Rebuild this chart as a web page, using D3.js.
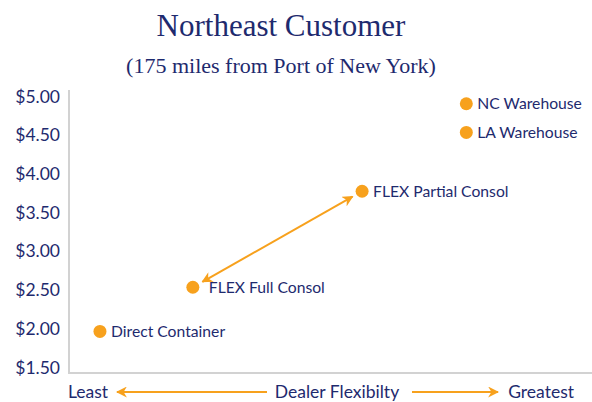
<!DOCTYPE html>
<html><head><meta charset="utf-8">
<script src="https://cdn.jsdelivr.net/npm/d3@7"></script>
<style>body{margin:0;background:#fff}svg{display:block}</style>
</head><body>
<svg id="c" width="592" height="402"></svg>
<script>
const names = ["Direct Container","FLEX Full Consol","FLEX Partial Consol","NC Warehouse","LA Warehouse"];
const flex = [6, 24, 56.8, 77, 77];
const cost = [1.96, 2.53, 3.77, 4.90, 4.53];
const yTicks = [1.5,2,2.5,3,3.5,4,4.5,5];
const title = "Northeast Customer";
const subtitle = "(175 miles from Port of New York)";

const navy = "#1e2a6e", orange = "#f7a11d", grey = "#d2d2d2";
const svg = d3.select("#c");
const x = d3.scaleLinear().domain([0,100]).range([69,585]);
const y = d3.scaleLinear().domain([1.5,5]).range([367,96]);

svg.append("text").attr("x",281).attr("y",36).attr("text-anchor","middle")
  .attr("font-family","Liberation Serif").attr("font-size",31).attr("fill",navy).text(title);
svg.append("text").attr("x",281).attr("y",73).attr("text-anchor","middle")
  .attr("font-family","Liberation Serif").attr("font-size",22).attr("fill",navy).text(subtitle);

// axes lines
svg.append("line").attr("x1",69).attr("x2",69).attr("y1",90).attr("y2",374).attr("stroke",grey).attr("stroke-width",2);
svg.append("line").attr("x1",68).attr("x2",592).attr("y1",373).attr("y2",373).attr("stroke",grey).attr("stroke-width",2);

const yAxis = d3.axisLeft(y).tickValues(yTicks).tickSize(0).tickPadding(0).tickFormat(d=>"$"+d.toFixed(2));
const ga = svg.append("g").attr("transform","translate(60,0)").call(yAxis);
ga.select(".domain").remove();
ga.selectAll("text").attr("font-family","Lato").attr("font-size",17.5).attr("fill",navy).attr("dy","0.35em");

const defs = svg.append("defs");
["s","e"].forEach(id=>{
  defs.append("marker").attr("id","m"+id).attr("viewBox","0 0 10 10").attr("refX",id==="e"?9:1).attr("refY",5)
   .attr("markerWidth",5.5).attr("markerHeight",5.5).attr("orient","auto")
   .append("path").attr("d",id==="e"?"M0,0L10,5L0,10L3,5Z":"M10,0L0,5L10,10L7,5Z").attr("fill",orange);
});

// double arrow between FLEX points
const a = 1, b = 2;
const dx = x(flex[b])-x(flex[a]), dy = y(cost[b])-y(cost[a]);
const L = Math.hypot(dx,dy), ux = dx/L, uy = dy/L;
svg.append("line")
  .attr("x1",x(flex[a])+ux*11).attr("y1",y(cost[a])+uy*11)
  .attr("x2",x(flex[b])-ux*11).attr("y2",y(cost[b])-uy*11)
  .attr("stroke",orange).attr("stroke-width",2)
  .attr("marker-start","url(#ms)").attr("marker-end","url(#me)");

svg.selectAll("circle.p").data(names).join("circle").attr("class","p")
  .attr("cx",(d,i)=>x(flex[i])).attr("cy",(d,i)=>y(cost[i])).attr("r",6.5).attr("fill",orange);
const off = [11,16,11,11,11];
svg.selectAll("text.l").data(names).join("text").attr("class","l")
  .attr("x",(d,i)=>x(flex[i])+off[i]).attr("y",(d,i)=>y(cost[i])).attr("dy","0.35em")
  .attr("font-family","Lato").attr("font-size",15.7).attr("fill",navy).text(d=>d);

// bottom axis label
const by = 392;
const bt = [["Least",68,"start"],["Dealer Flexibilty",337,"middle"],["Greatest",574,"end"]];
svg.selectAll("text.b").data(bt).join("text").attr("class","b")
  .attr("x",d=>d[1]).attr("y",by).attr("dy","0.35em").attr("text-anchor",d=>d[2])
  .attr("font-family","Lato").attr("font-size",17.5).attr("fill",navy).text(d=>d[0]);
svg.append("line").attr("x1",267).attr("x2",117).attr("y1",by).attr("y2",by).attr("stroke",orange).attr("stroke-width",2).attr("marker-end","url(#me)");
svg.append("line").attr("x1",412).attr("x2",498).attr("y1",by).attr("y2",by).attr("stroke",orange).attr("stroke-width",2).attr("marker-end","url(#me)");
</script>
</body></html>
